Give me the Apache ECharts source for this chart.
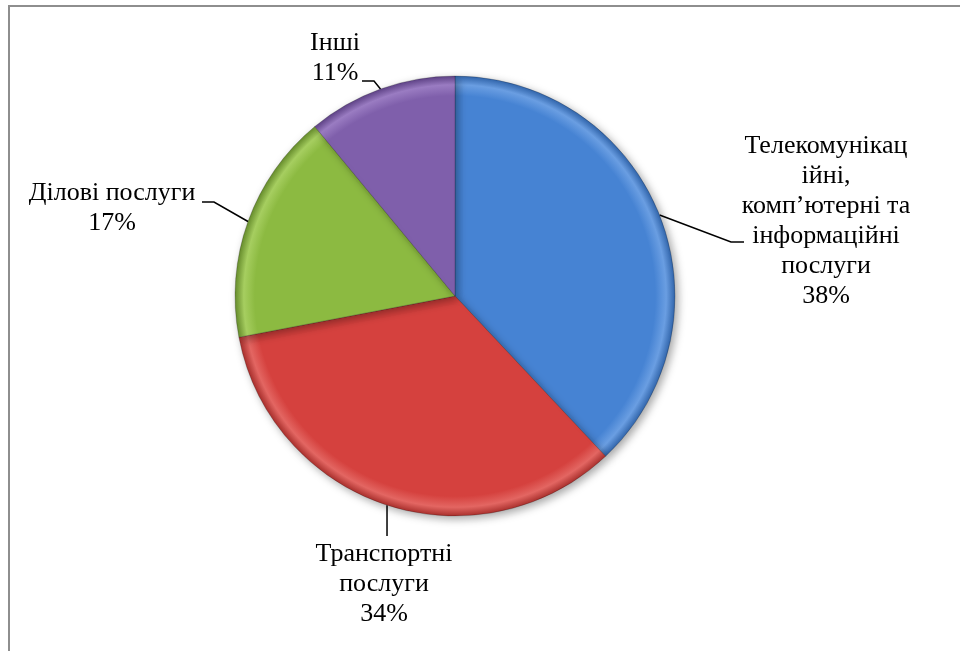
<!DOCTYPE html>
<html>
<head>
<meta charset="utf-8">
<style>
html, body { margin: 0; padding: 0; background: #fff; }
#chart { width: 960px; height: 651px; }
</style>
<script src="https://cdn.jsdelivr.net/npm/echarts@6/dist/echarts.min.js"></script>
</head>
<body>
<div id="chart"></div>
<script>
// категорії (з переносами рядків як на малюнку) та частки, %
const categories = [
  'Телекомунікац\nійні,\nкомп’ютерні та\nінформаційні\nпослуги',
  'Транспортні\nпослуги',
  'Ділові послуги',
  'Інші'
]
const values = [38, 34, 17, 11]

// кольори секторів
const baseColors = ['#4683d3', '#d5413e', '#8cba41', '#7f5fab']
const rimColors = ['#6a9ee2', '#e36662', '#a6ce60', '#9a7cc2']
const edgeColors = ['#3165ab', '#a9302d', '#668c2c', '#5e4286']

// де стоять підписи (центр блоку тексту) та злами ліній-виносок
// bend/end з null по x — беремо x початку виноски (вертикальна лінія)
const labelPos = [
  { x: 826, y: 221, bend: [731, 242], end: [744, 242] },
  { x: 384, y: 584, bend: [null, 520], end: [null, 536] },
  { x: 112, y: 208, bend: [214, 202], end: [202, 202] },
  { x: 335, y: 58, bend: [374, 81], end: [362, 81] }
]

const cx = 455
const cy = 296
const r = 220

function sliceColor(i) {
  return {
    type: 'radial',
    x: cx, y: cy, r: r,
    global: true,
    colorStops: [
      { offset: 0, color: baseColors[i] },
      { offset: 0.91, color: baseColors[i] },
      { offset: 0.96, color: rimColors[i] },
      { offset: 1, color: edgeColors[i] }
    ]
  }
}

const chart = echarts.init(document.getElementById('chart'))
const option = {
  backgroundColor: '#fff',
  animation: false,
  graphic: [
    {
      type: 'rect',
      shape: { x: 9, y: 6, width: 1000, height: 700 },
      style: { fill: 'none', stroke: '#8e8e8e', lineWidth: 2 },
      silent: true
    }
  ],
  series: [
    {
      type: 'pie',
      center: [cx, cy],
      radius: r,
      startAngle: 90,
      clockwise: true,
      data: categories.map((name, i) => ({
        name,
        value: values[i],
        itemStyle: { color: sliceColor(i) }
      })),
      itemStyle: {
        borderColor: 'rgba(0,0,0,0.25)',
        borderWidth: 0.8,
        shadowBlur: 8,
        shadowOffsetX: 3,
        shadowOffsetY: 3,
        shadowColor: 'rgba(0,0,0,0.35)'
      },
      label: {
        show: true,
        position: 'outside',
        formatter: '{b}\n{d}%',
        fontFamily: 'Liberation Serif',
        fontSize: 26,
        lineHeight: 30,
        color: '#000',
        align: 'center'
      },
      labelLine: {
        show: true,
        lineStyle: { color: '#000', width: 1.5 }
      },
      labelLayout: function (params) {
        const p = labelPos[params.dataIndex]
        const start = params.labelLinePoints ? params.labelLinePoints[0] : [p.end[0], p.end[1]]
        const bend = [p.bend[0] === null ? start[0] : p.bend[0], p.bend[1]]
        const end = [p.end[0] === null ? start[0] : p.end[0], p.end[1]]
        return {
          x: p.x,
          y: p.y,
          align: 'center',
          verticalAlign: 'middle',
          labelLinePoints: [start, bend, end]
        }
      }
    }
  ]
}
chart.setOption(option)
window.addEventListener('resize', () => {
  chart.resize()
})
</script>
</body>
</html>
